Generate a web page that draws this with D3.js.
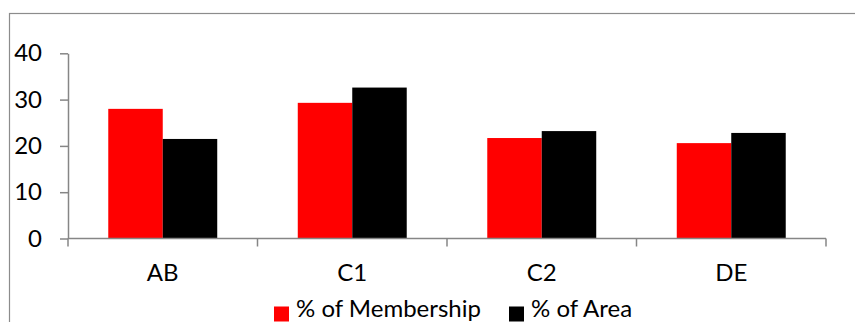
<!DOCTYPE html>
<html>
<head>
<meta charset="utf-8">
<script src="https://cdn.jsdelivr.net/npm/d3@7"></script>
<style>
  html, body { margin: 0; padding: 0; background: #fff; }
  svg { display: block; }
  text { font-family: Lato, "Liberation Sans", Arial, sans-serif; fill: #000; }
</style>
</head>
<body>
<svg id="chart" width="855" height="322"></svg>
<script>
// Categories and the two series (percent)
const categories = ["AB", "C1", "C2", "DE"];
const seriesNames = ["% of Membership", "% of Area"];
const membership = [28.0, 29.3, 21.7, 20.6];
const area = [21.5, 32.6, 23.2, 22.8];
const yTicks = [0, 10, 20, 30, 40];
const colors = ["#ff0000", "#000000"];

const svg = d3.select("#chart");
const W = 855, H = 322;
const plot = { left: 68, right: 826, top: 53.3, bottom: 238.5 };
const fontSize = 24;
const fontFamily = "Lato, Liberation Sans, Arial, sans-serif";

// Outer frame of the chart area
svg.append("rect")
  .attr("x", 9.5).attr("y", 13.5)
  .attr("width", W).attr("height", H)
  .attr("fill", "none").attr("stroke", "#8c8c8c").attr("stroke-width", 1.2);

const x0 = d3.scaleBand().domain(categories).range([plot.left, plot.right]).padding(0);
const x1 = d3.scaleBand().domain(seriesNames).range([0, x0.bandwidth()])
  .paddingInner(0).paddingOuter(0.739);
const y = d3.scaleLinear().domain([0, 40]).range([plot.bottom, plot.top]);

const rows = categories.map((c, i) => ({ cat: c, values: [membership[i], area[i]] }));

// Bars
const groups = svg.append("g").selectAll("g").data(rows).join("g")
  .attr("transform", d => `translate(${x0(d.cat)},0)`);
groups.selectAll("rect")
  .data(d => d.values.map((v, j) => ({ name: seriesNames[j], v, j })))
  .join("rect")
  .attr("x", d => x1(d.name))
  .attr("width", x1.bandwidth())
  .attr("y", d => y(d.v))
  .attr("height", d => y(0) - y(d.v))
  .attr("fill", d => colors[d.j]);

// Y axis
const yAxis = svg.append("g")
  .attr("transform", `translate(${plot.left},0)`)
  .call(d3.axisLeft(y).tickValues(yTicks).tickSize(8).tickSizeOuter(0).tickPadding(18));
yAxis.selectAll("path, line").attr("stroke", "#868686").attr("stroke-width", 1.5);
yAxis.selectAll("text").attr("font-size", fontSize).attr("font-family", fontFamily).attr("fill", "#000");

// X axis line with tick marks at category boundaries
const xAxis = svg.append("g");
xAxis.append("line")
  .attr("x1", plot.left).attr("x2", plot.right)
  .attr("y1", plot.bottom).attr("y2", plot.bottom)
  .attr("stroke", "#868686").attr("stroke-width", 1.5);
const bounds = categories.map(c => x0(c)).concat([x0.range()[1]]);
xAxis.selectAll("line.tick").data(bounds).join("line")
  .attr("class", "tick")
  .attr("x1", d => d).attr("x2", d => d)
  .attr("y1", plot.bottom).attr("y2", plot.bottom + 8)
  .attr("stroke", "#868686").attr("stroke-width", 1.5);
xAxis.selectAll("text").data(categories).join("text")
  .attr("x", d => x0(d) + x0.bandwidth() / 2)
  .attr("y", 281)
  .attr("text-anchor", "middle")
  .attr("font-size", fontSize)
  .text(d => d);

// Legend
const legendItems = [
  { name: seriesNames[0], color: colors[0], x: 274 },
  { name: seriesNames[1], color: colors[1], x: 509 }
];
const legend = svg.append("g");
legendItems.forEach(it => {
  legend.append("rect")
    .attr("x", it.x).attr("y", 306.5)
    .attr("width", 15).attr("height", 15)
    .attr("fill", it.color);
  legend.append("text")
    .attr("x", it.x + 22).attr("y", 317)
    .attr("font-size", fontSize)
    .text(it.name);
});
</script>
</body>
</html>
